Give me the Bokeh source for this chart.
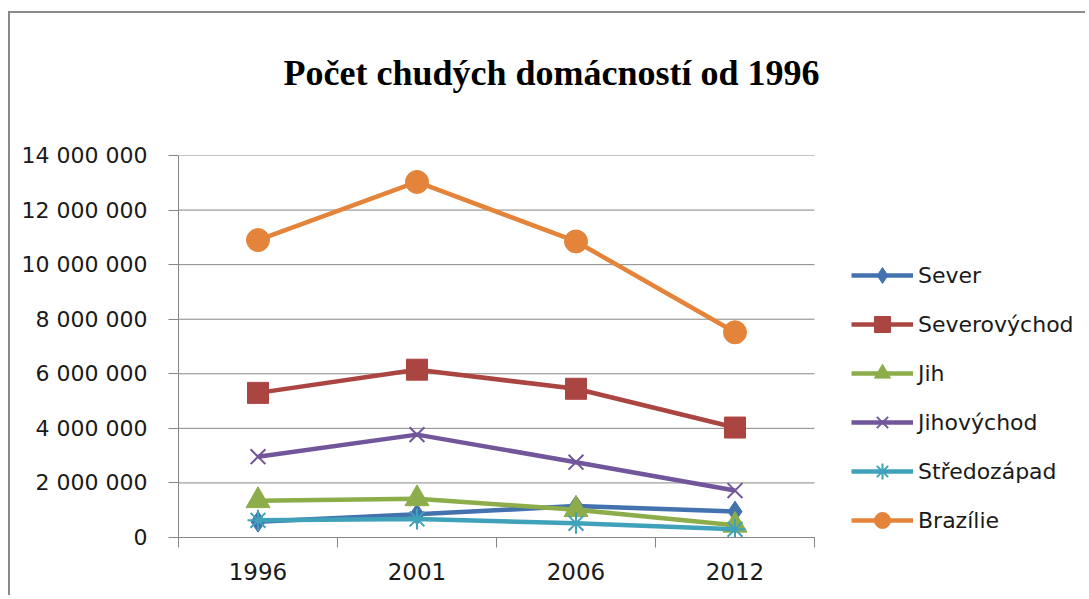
from bokeh.plotting import figure
from bokeh.models import (Range1d, FixedTicker, Legend, LegendItem, Title)
from bokeh.embed import file_html
from bokeh.resources import INLINE

# ---- data ----
years = ["1996", "2001", "2006", "2012"]
sever = [580000, 850000, 1150000, 950000]
severovychod = [5300000, 6150000, 5450000, 4030000]
jih = [1350000, 1420000, 1020000, 450000]
jihovychod = [2960000, 3770000, 2760000, 1720000]
stredozapad = [630000, 680000, 520000, 300000]
brazilie = [10900000, 13030000, 10850000, 7520000]
series_names = ["Sever", "Severovýchod", "Jih", "Jihovýchod", "Středozápad", "Brazílie"]
y_ticks = [0, 2000000, 4000000, 6000000, 8000000, 10000000, 12000000, 14000000]
title_text = "Počet chudých domácností od 1996"

series_values = [sever, severovychod, jih, jihovychod, stredozapad, brazilie]
colors = ["#4372ae", "#ab4542", "#8cad4a", "#71569b", "#3fa2ba", "#e3843a"]
markers = ["diamond", "square", "triangle", "x", "asterisk", "circle"]
msizes = [21, 21, 24, 21, 21, 23]

# category positions: band centers of an evenly split index range
n = len(years)
xs = [i + 0.5 for i in range(n)]
bounds = list(range(n + 1))

GRAY = "#868686"
FONT = "DejaVu Sans"

# layout: plotting area is 636 px wide; the frame continues to the right
# edge of the canvas so the legend can sit beside the plotting area
PLOT_W = 636
FRAME_W = 909
x_end = n * FRAME_W / PLOT_W

p = figure(width=1077, height=584, output_backend="svg", toolbar_location=None,
           x_range=Range1d(0, x_end), y_range=Range1d(y_ticks[0], y_ticks[-1]),
           min_border_left=168, min_border_top=142, min_border_right=0,
           min_border_bottom=60)
p.outline_line_color = None
p.background_fill_color = "white"
p.border_fill_color = "white"
p.styles = {"border-left": "2px solid #8a8a8a", "border-top": "2px solid #8a8a8a",
            "margin-left": "8px", "margin-top": "11px"}

# spacer between the plotting area and the title
p.add_layout(Title(text=" ", text_font_size="1px", standoff=18), "above")

# title (outermost in the top panel)
p.title.text = title_text
p.title.text_font = "Liberation Serif"
p.title.text_font_style = "bold"
p.title.text_font_size = "36px"
p.title.text_color = "black"
p.title.align = "left"
p.title.offset = 105
p.title.vertical_align = "top"
p.title.standoff = 79

# y axis
p.yaxis.ticker = FixedTicker(ticks=y_ticks)
p.yaxis.major_label_overrides = {t: f"{t:,}".replace(",", " ") for t in y_ticks}
p.yaxis.axis_line_color = GRAY
p.yaxis.major_tick_line_color = GRAY
p.yaxis.major_tick_out = 10
p.yaxis.major_tick_in = 0
p.yaxis.minor_tick_line_color = None
p.yaxis.major_label_text_font = FONT
p.yaxis.major_label_text_font_size = "22px"
p.yaxis.major_label_text_color = "#1a1a1a"
p.yaxis.major_label_standoff = 21

# x axis (limited to the category bands)
p.xaxis.ticker = FixedTicker(ticks=xs, minor_ticks=bounds)
p.xaxis.bounds = (0, n)
p.xaxis.major_label_overrides = {x: y for x, y in zip(xs, years)}
p.xaxis.axis_line_color = GRAY
p.xaxis.major_tick_line_color = None
p.xaxis.major_tick_out = 0
p.xaxis.major_tick_in = 0
p.xaxis.minor_tick_line_color = GRAY
p.xaxis.minor_tick_out = 10
p.xaxis.minor_tick_in = 0
p.xaxis.major_label_text_font = FONT
p.xaxis.major_label_text_font_size = "23px"
p.xaxis.major_label_text_color = "#1a1a1a"
p.xaxis.major_label_standoff = 15

# horizontal gridlines over the category bands only
p.xgrid.visible = False
p.ygrid.visible = False
p.segment(x0=[0] * len(y_ticks), x1=[n] * len(y_ticks), y0=y_ticks, y1=y_ticks,
          line_color=GRAY, line_width=1)

items = []
for name, vals, col, mk, ms in zip(series_names, series_values, colors, markers, msizes):
    ln = p.line(xs, vals, line_color=col, line_width=4.5)
    if mk in ("x", "asterisk"):
        sc = p.scatter(xs, vals, marker=mk, size=ms, line_color=col, line_width=2,
                       fill_color=None)
    else:
        sc = p.scatter(xs, vals, marker=mk, size=ms, line_color=col, line_width=1,
                       fill_color=col)
    items.append(LegendItem(label=name, renderers=[ln, sc]))

legend = Legend(items=items, location=(673, -3))
legend.border_line_color = None
legend.background_fill_alpha = 0
legend.margin = 0
legend.padding = 0
legend.glyph_width = 62
legend.glyph_height = 40
legend.label_height = 40
legend.spacing = 9
legend.label_standoff = 5
legend.label_text_font = FONT
legend.label_text_font_size = "22px"
legend.label_text_color = "#1a1a1a"
legend.label_text_baseline = "middle"
p.add_layout(legend, "center")

open("out.html", "w").write(file_html(p, INLINE))
